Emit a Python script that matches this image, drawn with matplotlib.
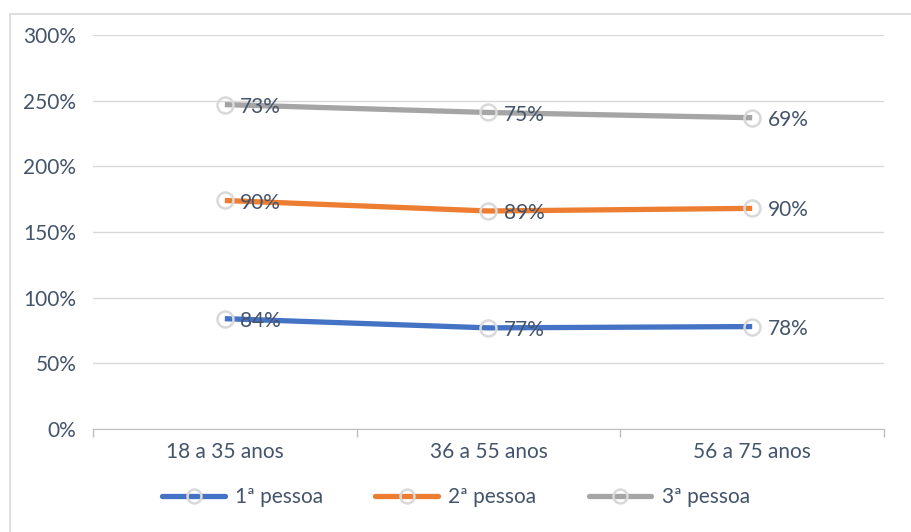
import matplotlib.pyplot as plt
from matplotlib.patches import Rectangle
from matplotlib.lines import Line2D
from matplotlib.ticker import FuncFormatter

plt.rcParams['font.family'] = ['Lato', 'DejaVu Sans']

categories = ['18 a 35 anos', '36 a 55 anos', '56 a 75 anos']
series_names = ['1ª pessoa', '2ª pessoa', '3ª pessoa']
pessoa1 = [84, 77, 78]
pessoa2 = [90, 89, 90]
pessoa3 = [73, 75, 69]
colors = ['#4472C4', '#ED7D31', '#A5A5A5']
text_color = '#44546A'
grid_color = '#D9D9D9'
fs = 15

fig = plt.figure(figsize=(9.12, 5.32), dpi=100)
ax = fig.add_axes([93/912, 1 - 429/532, (884 - 93)/912, (429 - 35)/532])

# chart border
fig.patches.append(Rectangle((10/912, -0.01), 1.0, 1 - 14/532 + 0.01, transform=fig.transFigure,
                             fill=False, edgecolor=grid_color, linewidth=1.2))

x = range(len(categories))
cum = [0, 0, 0]
for name, vals, c in zip(series_names, [pessoa1, pessoa2, pessoa3], colors):
    cum = [a + b for a, b in zip(cum, vals)]
    ax.plot(x, cum, color=c, linewidth=3.8, solid_capstyle='butt', zorder=3)
    ax.plot(x, cum, linestyle='none', marker='o', markersize=11.5, markerfacecolor='none',
            markeredgecolor=grid_color, markeredgewidth=1.8, zorder=4)
    for xi, yi, v in zip(x, cum, vals):
        ax.annotate('{}%'.format(v), (xi, yi), xytext=(11, -1.5), textcoords='offset points',
                    ha='left', va='center', fontsize=fs, color=text_color, zorder=5)

ax.set_xlim(-0.5, 2.5)
ax.set_ylim(0, 300)
ax.set_yticks(range(0, 301, 50))
ax.yaxis.set_major_formatter(FuncFormatter(lambda v, p: '{:.0f}%'.format(v)))
ax.set_xticks(list(x))
ax.set_xticklabels(categories)
ax.set_xticks([-0.5, 0.5, 1.5, 2.5], minor=True)
ax.tick_params(axis='x', which='major', length=0, pad=9, labelsize=fs, labelcolor=text_color)
ax.tick_params(axis='x', which='minor', length=6, color='#BFBFBF', width=1)
ax.tick_params(axis='y', length=0, pad=12, labelsize=fs, labelcolor=text_color)
ax.grid(axis='y', color=grid_color, linewidth=1)
ax.set_axisbelow(True)
for s in ['top', 'right', 'left']:
    ax.spines[s].set_visible(False)
ax.spines['bottom'].set_color('#BFBFBF')

handles = [Line2D([0], [0], color=c, linewidth=3.8, solid_capstyle='round', marker='o',
                  markersize=10, markerfacecolor='none', markeredgecolor=grid_color,
                  markeredgewidth=1.8) for c in colors]
fig.legend(handles, series_names, loc='center', bbox_to_anchor=(0.5, 1 - 497/532), ncol=3,
           frameon=False, fontsize=fs, labelcolor=text_color, handlelength=3.0,
           columnspacing=2.5, handletextpad=0.5)

fig.savefig('out.png', dpi=100)
